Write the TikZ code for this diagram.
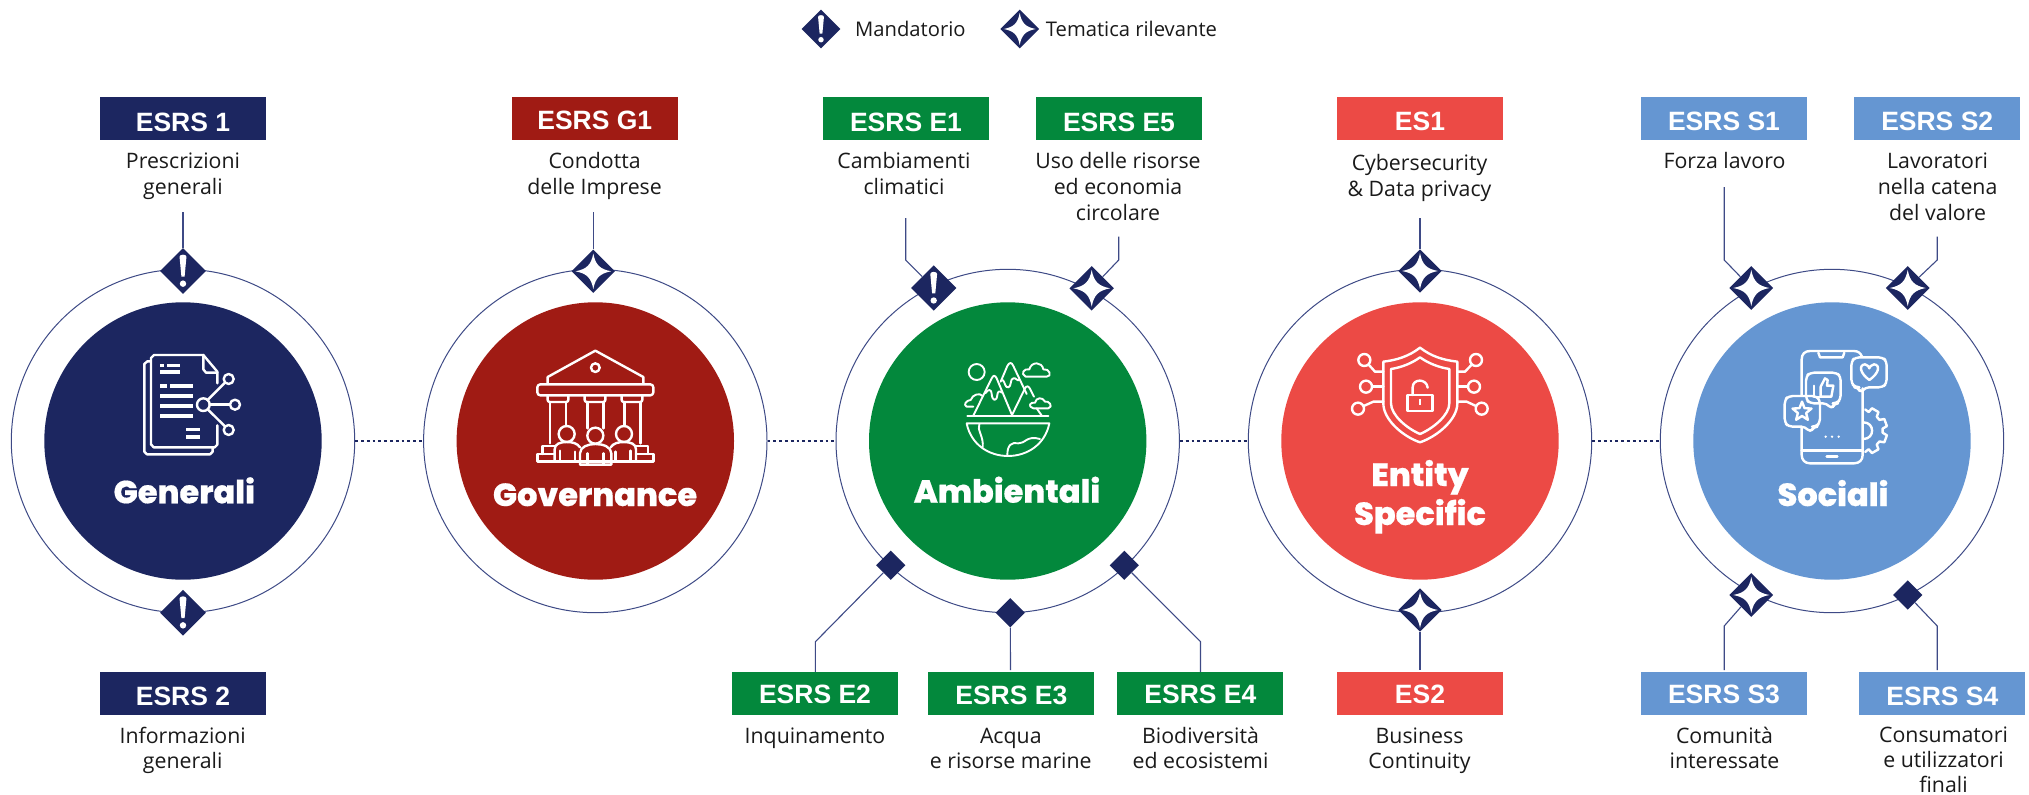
\documentclass[tikz,border=0pt]{standalone}
\usepackage{fontspec}
\usetikzlibrary{shapes.geometric}
\setmainfont{Open Sans}
\newfontfamily\tagfont{Liberation Sans}[UprightFont=* Bold]
\newfontfamily\heavyfont{Poppins}[UprightFont=* ExtraBold,FakeBold=0.5]
\definecolor{navy}{HTML}{1C2660}
\definecolor{wine}{HTML}{A01B14}
\definecolor{leaf}{HTML}{03883C}
\definecolor{coral}{HTML}{EC4A45}
\definecolor{sky}{HTML}{6596D2}
\definecolor{hair}{HTML}{3E4A86}
\definecolor{ink}{HTML}{1A1A1A}
\tikzset{
  ringc/.style={circle,draw=hair,line width=1pt,fill=white,minimum size=343.4pt,inner sep=0pt},
  discc/.style={circle,minimum size=277.4pt,inner sep=0pt},
  tagbox/.style={rectangle,minimum width=166pt,minimum height=43pt,inner sep=0pt,text=white,
    font=\tagfont\fontsize{26.5}{26.5}\selectfont,text height=19pt,text depth=0pt},
  labeltext/.style={anchor=north,yshift=18.2pt,inner sep=0pt,align=center,text=ink,
    font=\fontsize{21.3}{26}\selectfont},
  lowtext/.style={anchor=north,yshift=17.5pt,inner sep=0pt,align=center,text=ink,
    font=\fontsize{21.3}{25}\selectfont},
  legendtext/.style={anchor=base west,inner sep=0pt,text=ink,font=\fontsize{20.2}{26}\selectfont},
  titletext/.style={anchor=base,inner sep=0pt,text=white,font=\heavyfont\fontsize{32}{32}\selectfont},
  dia/.style={diamond,aspect=1,fill=navy,inner sep=0pt,draw=none},
  wire/.style={draw=hair,line width=1.1pt,line join=miter},
  dots/.style={draw=navy,line width=2.8pt,dash pattern=on 2.8pt off 3pt},
  icon/.style={draw=white,line width=2.4pt,line cap=round,line join=round},
  thinicon/.style={draw=white,line width=1.9pt,line cap=round,line join=round},
  bar/.style={fill=white,draw=none}
}
% name, x, y, half size
\newcommand{\mandd}[4]{%
  \node[dia,minimum size=#4*2pt] (#1) at (#2,#3) {};
  \begin{scope}[shift={(#1.center)},x=#4pt,y=-#4pt]
    \fill[white] (-.15,-.62) .. controls (-.15,-.74) and (.15,-.74) .. (.15,-.62) -- (.07,.24) -- (-.07,.24) -- cycle;
    \fill[white] (0,.55) circle[radius=.14];
  \end{scope}}
\newcommand{\stard}[4]{%
  \node[dia,minimum size=#4*2pt] (#1) at (#2,#3) {};
  \begin{scope}[shift={(#1.center)},x=#4pt,y=-#4pt]
    \fill[white] (0,-.82) .. controls (.1,-.3) and (.3,-.1) .. (.82,0) .. controls (.3,.1) and (.1,.3) .. (0,.82)
      .. controls (-.1,.3) and (-.3,.1) .. (-.82,0) .. controls (-.3,-.1) and (-.1,-.3) .. (0,-.82) -- cycle;
  \end{scope}}
\newcommand{\plaind}[3]{\node[dia,minimum size=29.4pt] (#1) at (#2,#3) {};}
% name, cx, cy, colour, text raise, text
\newcommand{\esrs}[6]{\node[tagbox,fill=#4] (#1) at (#2,#3) {\raisebox{-#5pt}{#6}};}
\begin{document}
\begin{tikzpicture}[x=1pt,y=-1pt]
\useasboundingbox (0,0) rectangle (2029,795);
\fill[white] (0,0) rectangle (2029,795);

% legend
\mandd{legM}{821}{29}{19.5}
\stard{legT}{1019.7}{29}{19.5}
\node[legendtext] (legMt) at (855,36.7) {Mandatorio};
\node[legendtext] (legTt) at (1045.7,36.7) {Tematica rilevante};

% rings and discs
\node[ringc] (r1) at (183,441) {};
\node[ringc] (r2) at (595.3,441) {};
\node[ringc] (r3) at (1007.7,441) {};
\node[ringc] (r4) at (1420,441) {};
\node[ringc] (r5) at (1832,441) {};
\node[discc,fill=navy] (c1) at (r1) {};
\node[discc,fill=wine] (c2) at (r2) {};
\node[discc,fill=leaf] (c3) at (r3) {};
\node[discc,fill=coral] (c4) at (r4) {};
\node[discc,fill=sky] (c5) at (r5) {};
\draw[dots] (r1.east) -- (r2.west);
\draw[dots] (r2.east) -- (r3.west);
\draw[dots] (r3.east) -- (r4.west);
\draw[dots] (r4.east) -- (r5.west);

% titles
\node[titletext] (t1) at (184.3,503.3) {Generali};
\node[titletext] (t2) at (595,506) {Governance};
\node[titletext] (t3) at (1007,502.7) {Ambientali};
\node[titletext] (t4a) at (1420,486) {Entity};
\node[titletext] (t4b) at (1420,525) {Specific};
\node[titletext] (t5) at (1833,506) {Sociali};

% diamonds
\mandd{dG1}{183}{271}{23}
\mandd{dG2}{183}{612.7}{23}
\stard{dGov}{593.3}{271.3}{21.7}
\mandd{dE1}{933.7}{288}{22.7}
\stard{dE5}{1091.7}{288.3}{22.3}
\plaind{dE2}{890.7}{565.3}
\plaind{dE3}{1010.3}{612.7}
\plaind{dE4}{1124.3}{565.3}
\stard{dES1}{1420}{271}{21.8}
\stard{dES2}{1420}{610}{21.8}
\stard{dS1}{1751.3}{288}{22}
\stard{dS2}{1907.7}{288}{22}
\stard{dS3}{1751.3}{595}{22}
\plaind{dS4}{1907.7}{595}

% tags
\esrs{bG1}{183}{118.5}{navy}{3}{ESRS 1}
\esrs{bG2}{183}{693.5}{navy}{2.5}{ESRS 2}
\esrs{bGov}{594.8}{118.5}{wine}{1}{ESRS G1}
\esrs{bE1}{906}{118.5}{leaf}{3}{ESRS E1}
\esrs{bE5}{1119}{118.5}{leaf}{3}{ESRS E5}
\esrs{bE2}{815}{693.5}{leaf}{.5}{ESRS E2}
\esrs{bE3}{1011.3}{693.5}{leaf}{1.5}{ESRS E3}
\esrs{bE4}{1200.4}{693.5}{leaf}{.5}{ESRS E4}
\esrs{bES1}{1420}{118.5}{coral}{2}{ES1}
\esrs{bES2}{1420}{693.5}{coral}{.5}{ES2}
\esrs{bS1}{1724}{118.5}{sky}{2}{ESRS S1}
\esrs{bS2}{1937.2}{118.5}{sky}{2}{ESRS S2}
\esrs{bS3}{1724}{693.5}{sky}{.5}{ESRS S3}
\esrs{bS4}{1942.4}{693.5}{sky}{2.5}{ESRS S4}

% labels
\node[labeltext] (lG1) at (183,168) {\strut Prescrizioni\\generali};
\node[lowtext] (lG2) at (182.7,743) {\strut Informazioni\\generali};
\node[labeltext] (lGov) at (594.6,168) {\strut Condotta\\delle Imprese};
\node[labeltext] (lE1) at (904,168) {\strut Cambiamenti\\climatici};
\node[labeltext] (lE5) at (1118,168) {\strut Uso delle risorse\\ed economia\\circolare};
\node[lowtext] (lE2) at (815,743) {\strut Inquinamento};
\node[lowtext] (lE3) at (1010.8,743) {\strut Acqua\\e risorse marine};
\node[lowtext] (lE4) at (1200.5,743) {\strut Biodiversità\\ed ecosistemi};
\node[labeltext] (lES1) at (1419.5,170) {\strut Cybersecurity\\\& Data privacy};
\node[lowtext] (lES2) at (1419.5,743) {\strut Business\\Continuity};
\node[labeltext] (lS1) at (1724.5,168) {\strut Forza lavoro};
\node[labeltext] (lS2) at (1937.6,168) {\strut Lavoratori\\nella catena\\del valore};
\node[lowtext] (lS3) at (1724.5,743) {\strut Comunità\\interessate};
\node[lowtext] (lS4) at (1943.5,742) {\strut Consumatori\\e utilizzatori\\finali};

% connector ends
\coordinate (kG1) at (183,212);
\coordinate (kG2) at (593.3,212);
\coordinate (kE1a) at (905.7,218);
\coordinate (kE1b) at (905.7,260);
\coordinate (kE5a) at (1118.7,236.5);
\coordinate (kE5b) at (1118.7,260);
\coordinate (kE2) at (815.4,641.7);
\coordinate (kE3) at (1010.5,670);
\coordinate (kE4) at (1200.5,641.7);
\coordinate (kES1) at (1420,218);
\coordinate (kES2) at (1420,670);
\coordinate (kS1a) at (1724.2,187);
\coordinate (kS1b) at (1724.2,260);
\coordinate (kS2a) at (1937.2,236.5);
\coordinate (kS2b) at (1937.2,260);
\coordinate (kS3a) at (1724.2,670);
\coordinate (kS3b) at (1724.2,626);
\coordinate (kS4a) at (1937.2,670);
\coordinate (kS4b) at (1937.2,626);

\draw[wire] (kG1) -- (dG1);
\draw[wire] (kG2) -- (dGov);
\draw[wire] (kE1a) -- (kE1b) -- (dE1);
\draw[wire] (kE5a) -- (kE5b) -- (dE5);
\draw[wire] (dE2) -- (kE2) -- (kE2 |- bE2.north);
\draw[wire] (dE3) -- (kE3);
\draw[wire] (dE4) -- (kE4) -- (kE4 |- bE4.north);
\draw[wire] (kES1) -- (dES1);
\draw[wire] (dES2) -- (kES2);
\draw[wire] (kS1a) -- (kS1b) -- (dS1);
\draw[wire] (kS2a) -- (kS2b) -- (dS2);
\draw[wire] (kS3a) -- (kS3b) -- (dS3);
\draw[wire] (kS4a) -- (kS4b) -- (dS4);

% ---- icon 1: document
\begin{scope}[shift={(0,240)},x=.33333pt,y=-.33333pt]
\draw[icon] (452,364) -- (442,364) -- (433,372) -- (433,635) -- (441,643) -- (630,643) -- (638,635) -- (638,624);
\draw[icon] (652,430) -- (652,395) -- (610,345) -- (462,345) -- (453,354) -- (453,613) -- (461,622) -- (644,622) -- (652,614) -- (652,556);
\draw[icon] (610,345) -- (610,388) -- (618,398) -- (652,398);
\foreach \a/\b/\c/\d in {480/372/492/382,500/372/540/382,480/391/540/401,480/433/501/443,510/433/579/443,480/462/579/473,480/492/579/503,480/522/579/533,558/564/600/574,558/586/600/597}
  \fill[bar] (\a,\b) rectangle (\c,\d);
\draw[icon] (610,494) circle[radius=19];
\draw[icon] (686,417) circle[radius=15];
\draw[icon] (705,494) circle[radius=15];
\draw[icon] (686,570) circle[radius=15];
\draw[icon] (623,480) -- (675,428);
\draw[icon] (629,494) -- (690,494);
\draw[icon] (623,508) -- (675,559);
\end{scope}

% ---- icon 2: temple and people
\begin{scope}[shift={(420,240)},x=.33333pt,y=-.33333pt]
\draw[icon] (383,430) -- (383,411) -- (526,332) -- (670,411) -- (670,430);
\draw[icon] (526,383) circle[radius=13];
\draw[icon,rounded corners=3pt] (352,433) rectangle (700,466);
\draw[icon,rounded corners=2pt] (383,466) -- (383,486) -- (445,486) -- (445,466);
\draw[icon,rounded corners=2pt] (494,466) -- (494,486) -- (556,486) -- (556,466);
\draw[icon,rounded corners=2pt] (605,466) -- (605,486) -- (667,486) -- (667,466);
\draw[icon] (390,486) -- (390,610);
\draw[icon] (438,486) -- (438,558);
\draw[icon] (503,486) -- (503,565);
\draw[icon] (550,486) -- (550,565);
\draw[icon] (614,486) -- (614,558);
\draw[icon] (662,486) -- (662,610);
\draw[icon] (440,582) circle[radius=24];
\draw[icon] (526,587) circle[radius=24];
\draw[icon] (612,582) circle[radius=24];
\draw[icon] (404,662) -- (404,628) .. controls (404,612) and (420,606) .. (440,606) .. controls (458,606) and (472,610) .. (480,622);
\draw[icon] (648,662) -- (648,628) .. controls (648,612) and (632,606) .. (612,606) .. controls (594,606) and (580,610) .. (572,622);
\draw[icon] (480,674) -- (480,640) .. controls (480,620) and (505,612) .. (526,612) .. controls (548,612) and (574,620) .. (574,640) -- (574,674) -- cycle;
\draw[icon] (503,640) -- (503,674);
\draw[icon] (550,640) -- (550,674);
\draw[icon] (420,632) -- (420,660);
\draw[icon] (465,635) -- (465,660);
\draw[icon] (587,635) -- (587,660);
\draw[icon] (632,632) -- (632,660);
\draw[icon] (404,642) -- (352,642) -- (352,664) -- (700,664) -- (700,642) -- (648,642);
\draw[icon] (368,642) -- (368,618) -- (404,618);
\draw[icon] (684,642) -- (684,618) -- (648,618);
\end{scope}

% ---- icon 3: landscape
\begin{scope}[shift={(830,240)},x=.33333pt,y=-.33333pt]
\draw[thinicon] (440,396) circle[radius=24];
\draw[thinicon] (587,410) .. controls (570,402) and (582,384) .. (598,388) .. controls (604,364) and (636,364) .. (640,388) .. controls (658,384) and (668,410) .. (650,410) -- cycle;
\draw[thinicon] (430,527) -- (485,415) .. controls (490,405) and (495,405) .. (500,415) -- (546,525);
\draw[thinicon] (512,425) -- (532,378) .. controls (538,366) and (545,366) .. (550,378) -- (590,462);
\draw[thinicon] (546,525) -- (585,445) .. controls (590,436) and (595,438) .. (600,446) -- (612,470);
\draw[thinicon] (620,505) -- (636,528);
\draw[thinicon] (466,460) .. controls (475,445) and (485,448) .. (485,462) .. controls (487,485) and (500,485) .. (502,465) .. controls (502,455) and (510,450) .. (515,458);
\draw[thinicon] (518,420) .. controls (525,425) and (525,445) .. (535,442) .. controls (545,440) and (540,415) .. (550,415) .. controls (558,412) and (562,425) .. (568,420);
\draw[thinicon] (430,500) -- (410,500) .. controls (398,495) and (410,480) .. (422,480) .. controls (428,462) and (450,458) .. (458,468);
\draw[thinicon] (610,505) -- (655,505) .. controls (672,500) and (655,480) .. (645,485) .. controls (638,470) and (618,472) .. (615,488) .. controls (600,485) and (592,500) .. (610,505);
\draw[thinicon] (412,528) -- (655,528);
\draw[thinicon] (410,550) -- (658,550) .. controls (645,615) and (590,648) .. (534,648) .. controls (478,648) and (423,615) .. (410,550);
\draw[thinicon] (448,552) .. controls (440,570) and (462,590) .. (458,622);
\draw[thinicon] (532,645) .. controls (532,615) and (545,605) .. (565,610) .. controls (585,612) and (590,585) .. (630,597);
\end{scope}

% ---- icon 4: shield
\begin{scope}[shift={(1240,240)},x=.33333pt,y=-.33333pt]
\draw[icon] (540,323) .. controls (505,350) and (470,360) .. (430,365) -- (430,490) .. controls (430,540) and (490,590) .. (540,607)
  .. controls (590,590) and (652,540) .. (652,490) -- (652,365) .. controls (610,360) and (575,350) .. (540,323) -- cycle;
\draw[icon] (540,352) .. controls (515,370) and (485,382) .. (453,387) -- (453,490) .. controls (453,525) and (500,565) .. (540,582)
  .. controls (580,565) and (628,525) .. (628,490) -- (628,387) .. controls (596,382) and (565,370) .. (540,352) -- cycle;
\draw[icon] (503,465) rectangle (577,513);
\draw[icon] (518,465) -- (518,442) .. controls (518,415) and (560,415) .. (563,443);
\fill[bar] (537,478) rectangle (543,495);
\draw[icon] (373,360) circle[radius=18];
\draw[icon] (378,440) circle[radius=18];
\draw[icon] (354,506) circle[radius=18];
\draw[icon] (708,360) circle[radius=18];
\draw[icon] (702,440) circle[radius=18];
\draw[icon] (725,506) circle[radius=18];
\draw[icon] (386,374) -- (405,395) -- (430,395);
\draw[icon] (396,440) -- (430,440);
\draw[icon] (371,498) -- (400,485) -- (430,485);
\draw[icon] (695,374) -- (675,395) -- (652,395);
\draw[icon] (684,440) -- (652,440);
\draw[icon] (708,498) -- (680,485) -- (652,485);
\end{scope}

% ---- icon 5: phone
\begin{scope}[shift={(1650,240)},x=.33333pt,y=-.33333pt]
\draw[icon] (455,465) -- (455,358) .. controls (455,342) and (465,333) .. (480,333) -- (612,333) .. controls (625,333) and (632,340) .. (636,350);
\draw[icon] (638,445) -- (638,645) .. controls (638,660) and (628,670) .. (612,670) -- (480,670) .. controls (465,670) and (455,660) .. (455,645) -- (455,560);
\draw[icon] (505,338) -- (510,352) -- (578,352) -- (583,338);
\draw[icon] (455,632) -- (638,632);
\draw[icon] (530,650) -- (562,650);
\fill[bar] (527,590) circle[radius=4];
\fill[bar] (546,590) circle[radius=4];
\fill[bar] (566,590) circle[radius=4];
\draw[icon,rounded corners=4pt] (625,442) -- (616,442) -- (604,430) -- (604,364) -- (616,352) -- (698,352) -- (710,364) -- (710,430) -- (698,442) -- (645,442) -- (632,460) -- cycle;
\draw[icon] (658,420) .. controls (630,400) and (625,375) .. (645,373) .. controls (652,373) and (658,382) .. (658,385) .. controls (658,382) and (665,373) .. (672,373) .. controls (692,375) and (687,400) .. (658,420) -- cycle;
\draw[icon,rounded corners=4pt] (530,490) -- (480,490) -- (468,478) -- (468,410) -- (480,398) -- (560,398) -- (572,410) -- (572,478) -- (560,490) -- (552,490) -- (546,508) -- cycle;
\draw[icon] (512,470) -- (512,440) -- (525,415) -- (533,420) -- (531,437) -- (550,437) -- (544,470) -- cycle;
\draw[thinicon] (492,437) -- (492,470) -- (512,470);
\draw[icon,rounded corners=4pt] (465,560) -- (416,560) -- (404,548) -- (404,480) -- (416,468) -- (498,468) -- (510,480) -- (510,548) -- (498,560) -- (490,560) -- (482,578) -- cycle;
\draw[icon] (456,485) -- (463.6,504.5) -- (484.5,505.7) -- (468.4,519) -- (473.6,539.3) -- (456,528) -- (438.4,539.3) -- (443.6,519) -- (427.5,505.7) -- (448.4,504.5) -- cycle;
\begin{scope}[shift={(640,572)}]
\draw[icon] (-85:64) foreach \a in {-60,-20,20,60} { -- (\a-14:58) -- (\a-9:72) -- (\a+9:72) -- (\a+14:58) } -- (85:64);
\draw[icon] (-90:25) .. controls (35,-25) and (35,25) .. (90:25);
\end{scope}
\end{scope}
\end{tikzpicture}
\end{document}
